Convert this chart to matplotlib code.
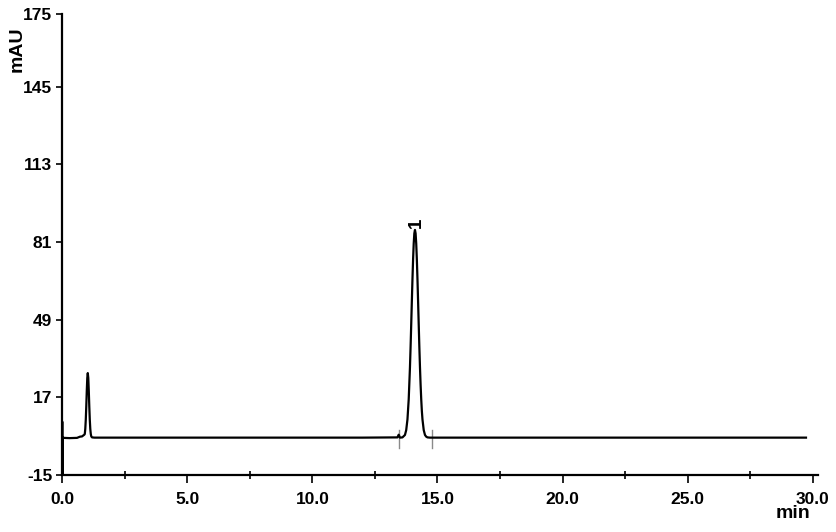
"""
plot.py
-------
Chromatogram (mAU vs. min) with one labelled peak.
"""

import matplotlib
matplotlib.use("Agg")
import matplotlib.pyplot as plt
from matplotlib.ticker import MultipleLocator

# trace: retention time (min) and absorbance (mAU)
time_min = [
    0.00, 0.01, 0.02, 0.03, 0.06, 0.30, 0.60, 0.72, 0.80, 0.85, 0.89,
    0.91, 0.93, 0.95, 0.97, 0.99, 1.01, 1.03, 1.05, 1.07, 1.09, 1.11,
    1.13, 1.15, 1.17, 1.20, 1.30, 4.00, 8.00, 12.00, 13.40, 13.45,
    13.50, 13.60, 13.70, 13.75, 13.80, 13.85, 13.90, 13.925, 13.95,
    13.975, 14.00, 14.025, 14.05, 14.075, 14.10, 14.125, 14.15, 14.175,
    14.20, 14.225, 14.25, 14.275, 14.30, 14.325, 14.35, 14.375, 14.40,
    14.45, 14.50, 14.55, 14.60, 14.70, 15.00, 20.00, 25.00, 29.72,
]
signal_mau = [
    -25.0, 7.0, -25.0, 0.3, 0.3, 0.2, 0.3, 0.8, 0.9, 1.3, 1.6,
    1.9, 4.0, 7.8, 13.3, 19.7, 25.0, 27.0, 25.0, 19.7, 13.3, 7.8,
    4.0, 1.9, 0.9, 0.5, 0.4, 0.4, 0.4, 0.4, 0.5, 1.6,
    0.4, 0.5, 1.5, 3.5, 7.9, 16.2, 29.4, 37.8, 47.0,
    56.5, 65.7, 73.9, 80.4, 84.6, 86.0, 84.6, 80.4, 73.9,
    65.7, 56.5, 47.0, 37.8, 29.4, 22.2, 16.2, 11.4, 7.9,
    3.5, 1.5, 0.8, 0.5, 0.4, 0.4, 0.4, 0.4, 0.4,
]

# integration delimiters of peak 1
peak_start = 13.46
peak_end = 14.78
peak_label = "1"
peak_time = 14.15
peak_height = 86.0

y_ticks = [-15, 17, 49, 81, 113, 145, 175]
x_ticks = [0.0, 5.0, 10.0, 15.0, 20.0, 25.0, 30.0]

plt.rcParams["font.family"] = ["Liberation Sans", "DejaVu Sans"]
plt.rcParams["font.weight"] = "bold"

fig = plt.figure(figsize=(8.37, 5.32), dpi=100)
ax = fig.add_axes([62 / 837, 57 / 532, 756 / 837, 461 / 532])

for t in (peak_start, peak_end):
    ax.plot([t, t], [-4.0, 3.5], color="#8a8a8a", lw=1.0, zorder=1)

ax.plot(time_min, signal_mau, color="black", lw=1.6, zorder=2)

ax.text(peak_time, peak_height + 0.8, peak_label, rotation=90, ha="center", va="bottom",
        fontsize=13.5, fontweight="bold")

ax.set_xlim(0, 30.2)
ax.set_ylim(-15, 175)
ax.set_xticks(x_ticks)
ax.set_xticklabels([f"{v:.1f}" for v in x_ticks])
ax.xaxis.set_minor_locator(MultipleLocator(2.5))
ax.set_yticks(y_ticks)
ax.set_yticklabels([str(v) for v in y_ticks])

for side in ("top", "right"):
    ax.spines[side].set_visible(False)
for side in ("left", "bottom"):
    ax.spines[side].set_linewidth(1.6)

ax.tick_params(axis="both", which="major", direction="out", length=4, width=1.2,
               labelsize=12.5, colors="black")
ax.tick_params(axis="x", which="major", length=6, pad=6)
ax.tick_params(axis="x", which="minor", direction="inout", length=6, width=1.2)
ax.tick_params(axis="y", which="major", pad=3)

fig.text(17 / 837, 1 - 49 / 532, "mAU", rotation=90, ha="center", va="center",
         fontsize=14, fontweight="bold")
fig.text(793 / 837, 1 - 513 / 532, "min", ha="center", va="center",
         fontsize=14, fontweight="bold")

fig.savefig("out.png", dpi=100)
